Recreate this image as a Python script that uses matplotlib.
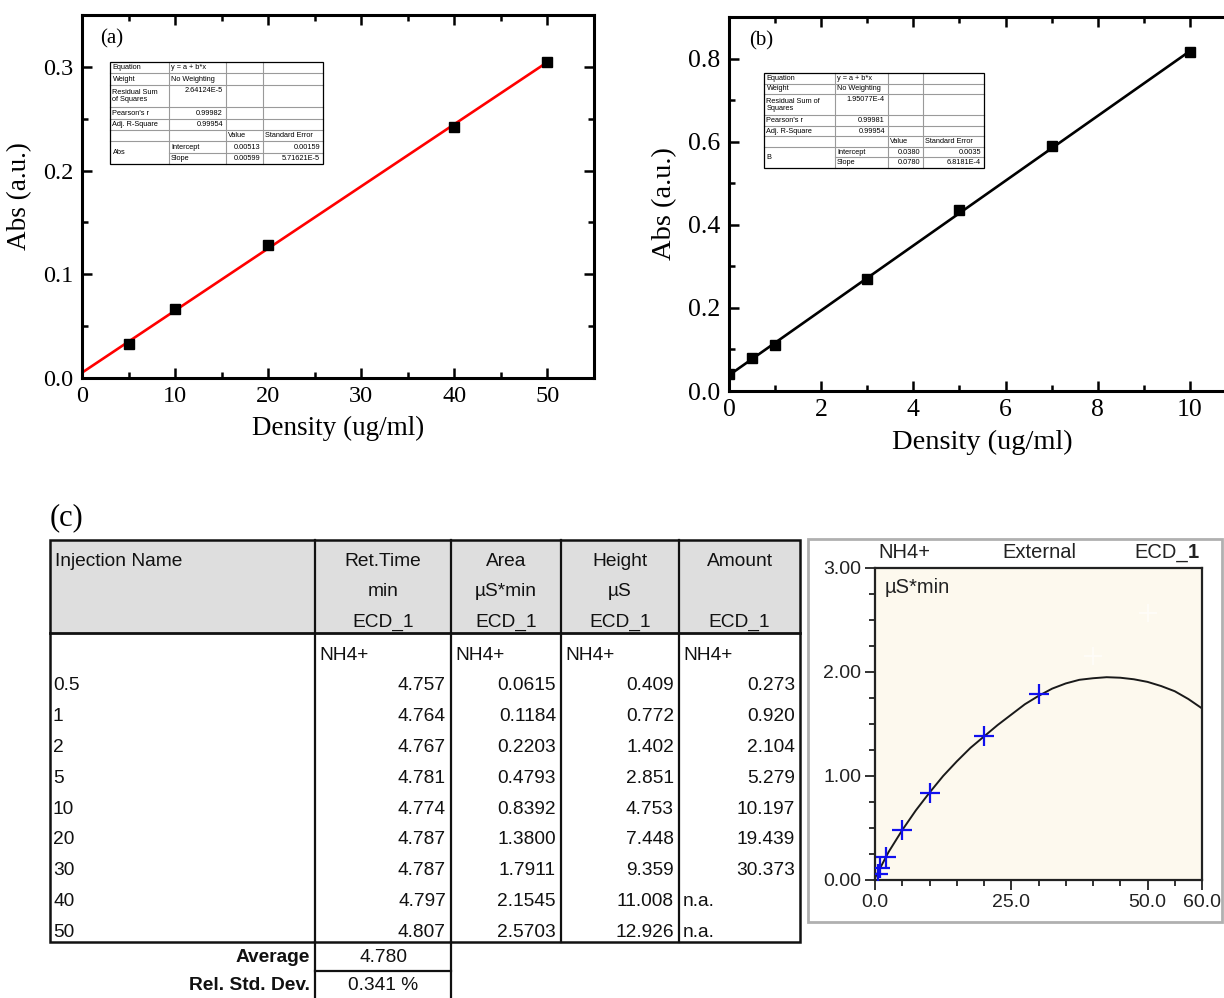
import matplotlib.pyplot as plt
from matplotlib.ticker import MultipleLocator, FixedLocator, FormatStrFormatter
from matplotlib.patches import Rectangle

W, H = 1224, 998
SERIF = 'Liberation Serif'
SANS = 'Liberation Sans'

# ---------------- data ----------------
# (a) calibration, Abs vs density
conc_a = [5, 10, 20, 40, 50]
abs_a = [0.033, 0.067, 0.128, 0.242, 0.305]
intercept_a, slope_a = 0.00513, 0.00599

# (b) calibration, Abs vs density
conc_b = [0, 0.5, 1, 3, 5, 7, 10]
abs_b = [0.040, 0.080, 0.110, 0.270, 0.435, 0.590, 0.815]
intercept_b, slope_b = 0.0380, 0.0780

# inset fit tables
fit_labels = ['Equation', 'Weight', 'Residual Sum\nof Squares', "Pearson's r", 'Adj. R-Square']
fit_labels_b = ['Equation', 'Weight', 'Residual Sum of\nSquares', "Pearson's r", 'Adj. R-Square']
fit_a = ['y = a + b*x', 'No Weighting', '2.64124E-5', '0.99982', '0.99954']
par_a = ['Abs', '0.00513', '0.00159', '0.00599', '5.71621E-5']
fit_b = ['y = a + b*x', 'No Weighting', '1.95077E-4', '0.99981', '0.99954']
par_b = ['B', '0.0380', '0.0035', '0.0780', '6.8181E-4']

# (c) ion chromatography table
inj_names = ['0.5', '1', '2', '5', '10', '20', '30', '40', '50']
ret_time = [4.757, 4.764, 4.767, 4.781, 4.774, 4.787, 4.787, 4.797, 4.807]
area = [0.0615, 0.1184, 0.2203, 0.4793, 0.8392, 1.3800, 1.7911, 2.1545, 2.5703]
height = [0.409, 0.772, 1.402, 2.851, 4.753, 7.448, 9.359, 11.008, 12.926]
amount = [0.273, 0.920, 2.104, 5.279, 10.197, 19.439, 30.373, None, None]
avg_rt = '4.780'
rsd_rt = '0.341 %'
used = 7  # first 7 standards used in the calibration

# (c) calibration curve
curve_x = [0, 2.5, 5, 7.5, 10, 12.5, 15, 17.5, 20, 22.5, 25, 27.5, 30, 32.5,
           35, 37.5, 40, 42.5, 45, 47.5, 50, 52.5, 55, 57.5, 60]
curve_y = [0.02, 0.27, 0.48, 0.67, 0.84, 1.00, 1.14, 1.27, 1.38, 1.49, 1.59, 1.69,
           1.77, 1.84, 1.89, 1.925, 1.94, 1.95, 1.945, 1.93, 1.905, 1.865, 1.815,
           1.74, 1.65]


def px_axes(fig, l, t, r, b):
    return fig.add_axes([l / W, 1 - b / H, (r - l) / W, (b - t) / H])


def origin_style(ax, fs):
    for s in ax.spines.values():
        s.set_linewidth(2.2)
    ax.tick_params(which='both', direction='in', top=True, right=True, width=1.8,
                   labelsize=fs, pad=6)
    ax.tick_params(which='major', length=7)
    ax.tick_params(which='minor', length=4)
    for lab in ax.get_xticklabels() + ax.get_yticklabels():
        lab.set_family(SERIF)


def fit_table(ax, cols, top, bottom, labels, vals, par):
    unit = (bottom - top) / 9.0
    hs = [1, 1, 2, 1, 1, 1, 1, 1]
    edges = [top]
    for h in hs:
        edges.append(edges[-1] + h * unit)
    ax.add_patch(Rectangle((cols[0], top), cols[-1] - cols[0], bottom - top,
                           fc='white', ec='none', zorder=5))
    for r in range(1, 8):
        x0 = cols[1] if r == 7 else cols[0]
        ax.plot([x0, cols[-1]], [edges[r], edges[r]], color='#9a9a9a', lw=0.8, zorder=6)
    for c in cols[1:-1]:
        ax.plot([c, c], [top, bottom], color='#9a9a9a', lw=0.8, zorder=6)
    ax.add_patch(Rectangle((cols[0], top), cols[-1] - cols[0], bottom - top,
                           fc='none', ec='black', lw=0.9, zorder=7))
    kw = dict(family=SANS, fontsize=5.3, zorder=8)
    for i in range(5):
        yc = (edges[i] + edges[i + 1]) / 2
        ax.text(cols[0] + 2.5, yc, labels[i], ha='left', va='center', linespacing=1.0, **kw)
        if i < 2:
            ax.text(cols[1] + 2, yc, vals[i], ha='left', va='center', **kw)
        else:
            yv = edges[i] + unit / 2 if i == 2 else yc
            ax.text(cols[2] - 3, yv, vals[i], ha='right', va='center', **kw)
    y5 = (edges[5] + edges[6]) / 2
    ax.text(cols[2] + 2, y5, 'Value', ha='left', va='center', **kw)
    ax.text(cols[3] + 2, y5, 'Standard Error', ha='left', va='center', **kw)
    ax.text(cols[0] + 2.5, edges[7], par[0], ha='left', va='center', **kw)
    for j, name in enumerate(['Intercept', 'Slope']):
        yc = (edges[6 + j] + edges[7 + j]) / 2
        ax.text(cols[1] + 2, yc, name, ha='left', va='center', **kw)
        ax.text(cols[3] - 3, yc, par[1 + 2 * j], ha='right', va='center', **kw)
        ax.text(cols[4] - 3, yc, par[2 + 2 * j], ha='right', va='center', **kw)


fig = plt.figure(figsize=(W / 100, H / 100), dpi=100)

# ---------------- panel (a) ----------------
axa = px_axes(fig, 82, 15, 594, 378)
xa = [0, max(conc_a)]
axa.plot(xa, [intercept_a + slope_a * v for v in xa], color='#ff0000', lw=1.9, zorder=2)
axa.plot(conc_a, abs_a, 's', color='black', ms=6.5, zorder=3)
axa.set_xlim(0, 55)
axa.set_ylim(0, 0.35)
axa.xaxis.set_major_locator(MultipleLocator(10))
axa.xaxis.set_minor_locator(MultipleLocator(5))
axa.yaxis.set_major_locator(MultipleLocator(0.1))
axa.yaxis.set_minor_locator(MultipleLocator(0.05))
axa.yaxis.set_major_formatter(FormatStrFormatter('%.1f'))
origin_style(axa, 17.5)
axa.set_xlabel('Density (ug/ml)', family=SERIF, fontsize=19.5, labelpad=6)
axa.set_ylabel('Abs (a.u.)', family=SERIF, fontsize=19.5, labelpad=8)
axa.text(0.035, 0.935, '(a)', transform=axa.transAxes, family=SERIF, fontsize=15,
         ha='left', va='center')

# ---------------- panel (b) ----------------
axb = px_axes(fig, 729, 17, 1236, 391)
xb = [0, max(conc_b)]
axb.plot(xb, [intercept_b + slope_b * v for v in xb], color='black', lw=1.9, zorder=2)
axb.plot(conc_b, abs_b, 's', color='black', ms=6.5, zorder=3)
axb.set_xlim(0, 11)
axb.set_ylim(0, 0.9)
axb.xaxis.set_major_locator(MultipleLocator(2))
axb.xaxis.set_minor_locator(MultipleLocator(1))
axb.yaxis.set_major_locator(MultipleLocator(0.2))
axb.yaxis.set_minor_locator(MultipleLocator(0.1))
axb.yaxis.set_major_formatter(FormatStrFormatter('%.1f'))
origin_style(axb, 18.5)
axb.set_xlabel('Density (ug/ml)', family=SERIF, fontsize=20.5, labelpad=6)
axb.set_ylabel('Abs (a.u.)', family=SERIF, fontsize=20.5, labelpad=8)
axb.text(0.04, 0.935, '(b)', transform=axb.transAxes, family=SERIF, fontsize=15,
         ha='left', va='center')

# ---------------- panel (c) chart ----------------
axc = px_axes(fig, 875, 568, 1202, 880)
axc.set_facecolor('#fdf9ee')
axc.plot(curve_x, curve_y, color='#1a1a1a', lw=1.4, zorder=2)
axc.plot([float(v) for v in inj_names[:used]], area[:used], '+', color='#1010ee',
         ms=15, mew=1.6, zorder=3)
axc.plot([float(v) for v in inj_names[used:]], area[used:], '+', color='white',
         ms=13, mew=1.4, alpha=0.6, zorder=3)
axc.set_xlim(0, 60)
axc.set_ylim(0, 3)
axc.xaxis.set_major_locator(FixedLocator([0, 25, 50, 60]))
axc.xaxis.set_minor_locator(MultipleLocator(5))
axc.xaxis.set_major_formatter(FormatStrFormatter('%.1f'))
axc.yaxis.set_major_locator(MultipleLocator(1))
axc.yaxis.set_minor_locator(MultipleLocator(0.25))
axc.yaxis.set_major_formatter(FormatStrFormatter('%.2f'))
for s in axc.spines.values():
    s.set_linewidth(1.6)
    s.set_color('#222222')
axc.tick_params(which='both', direction='out', width=1.3, labelsize=14, colors='#222222',
                pad=3)
axc.tick_params(which='major', length=7)
axc.tick_params(which='minor', length=4)
for lab in axc.get_xticklabels() + axc.get_yticklabels():
    lab.set_family(SANS)
axc.text(0.03, 0.936, 'µS*min', transform=axc.transAxes, family=SANS, fontsize=14.5,
         ha='left', va='center', color='#222222')

# ---------------- overlay in pixel coordinates ----------------
ov = fig.add_axes([0, 0, 1, 1])
ov.set_xlim(0, W)
ov.set_ylim(H, 0)
ov.axis('off')
ov.patch.set_alpha(0)

fit_table(ov, [110, 169, 226, 263, 323], 62, 164, fit_labels, fit_a, par_a)
fit_table(ov, [764, 835, 888, 923, 984], 73, 168, fit_labels_b, fit_b, par_b)

# chart frame and header
ov.add_patch(Rectangle((808, 539), 414, 383, fc='none', ec='#b0b0b0', lw=2))
ov.text(878, 553, 'NH4+', family=SANS, fontsize=14.5, ha='left', va='center', color='#222222')
ov.text(1039, 553, 'External', family=SANS, fontsize=14.5, ha='center', va='center',
        color='#222222')
ov.text(1188, 553, 'ECD_', family=SANS, fontsize=14.5, ha='right', va='center', color='#222222')
ov.text(1188, 553, '1', family=SANS, fontsize=14.5, ha='left', va='center', weight='bold',
        color='#222222')

# (c) label and table
ov.text(50, 518, '(c)', family=SERIF, fontsize=22, ha='left', va='center')

cx = [50, 315, 451, 561, 679, 800]
hdr_top, hdr_bot, body_bot = 540, 633, 942
ov.add_patch(Rectangle((cx[0], hdr_top), cx[-1] - cx[0], hdr_bot - hdr_top,
                       fc='#dedede', ec='none'))
headers = [['Injection Name', '', ''], ['Ret.Time', 'min', 'ECD_1'],
           ['Area', 'µS*min', 'ECD_1'], ['Height', 'µS', 'ECD_1'], ['Amount', '', 'ECD_1']]
hdr_y = [561, 592, 622]
tkw = dict(family=SANS, fontsize=13.8, va='center', color='#111111')
for i, hd in enumerate(headers):
    for j, t in enumerate(hd):
        if i == 0:
            ov.text(cx[0] + 5, hdr_y[j], t, ha='left', **tkw)
        else:
            ov.text((cx[i] + cx[i + 1]) / 2, hdr_y[j], t, ha='center', **tkw)

row_y0, row_dy = 655, 30.8
for i in range(1, 5):
    ov.text(cx[i] + 4, row_y0, 'NH4+', ha='left', **tkw)
cols = [ret_time, area, height, amount]
fmts = ['%.3f', '%.4f', '%.3f', '%.3f']
for r, name in enumerate(inj_names):
    y = row_y0 + row_dy * (r + 1)
    ov.text(cx[0] + 3, y, name, ha='left', **tkw)
    for k, col in enumerate(cols):
        v = col[r]
        if v is None:
            ov.text(cx[k + 1] + 4, y, 'n.a.', ha='left', **tkw)
        else:
            ov.text(cx[k + 2] - 5, y, fmts[k] % v, ha='right', **tkw)

lk = dict(color='#111111', lw=1.6)
ov.add_patch(Rectangle((cx[0], hdr_top), cx[-1] - cx[0], body_bot - hdr_top,
                       fc='none', ec='#111111', lw=1.8))
ov.plot([cx[0], cx[-1]], [hdr_bot, hdr_bot], color='#111111', lw=2)
for c in cx[1:-1]:
    ov.plot([c, c], [hdr_top, body_bot], **lk)
ov.plot([cx[1], cx[1]], [body_bot, H], **lk)
ov.plot([cx[2], cx[2]], [body_bot, H], **lk)
ov.plot([cx[1], cx[2]], [971, 971], **lk)
ov.text(cx[1] - 5, 958, 'Average', ha='right', weight='bold', **tkw)
ov.text((cx[1] + cx[2]) / 2, 958, avg_rt, ha='center', **tkw)
ov.text(cx[1] - 5, 986, 'Rel. Std. Dev.', ha='right', weight='bold', **tkw)
ov.text((cx[1] + cx[2]) / 2, 986, rsd_rt, ha='center', **tkw)

fig.savefig('out.png', dpi=100)
